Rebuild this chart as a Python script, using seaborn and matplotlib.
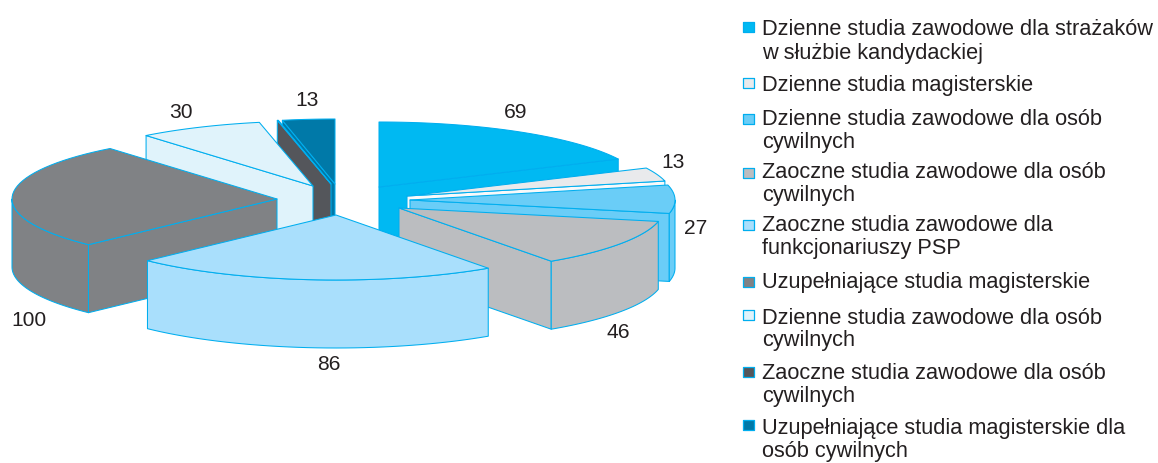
import numpy as np
import pandas as pd
import matplotlib.pyplot as plt
import seaborn as sns

# dane z wykresu (ciemnoszary wycinek nie ma etykiety, wartosc szacowana)
labels = [
    "Dzienne studia zawodowe dla strażaków\nw służbie kandydackiej",
    "Dzienne studia magisterskie",
    "Dzienne studia zawodowe dla osób\ncywilnych",
    "Zaoczne studia zawodowe dla osób\ncywilnych",
    "Zaoczne studia zawodowe dla\nfunkcjonariuszy PSP",
    "Uzupełniające studia magisterskie",
    "Dzienne studia zawodowe dla osób\ncywilnych",
    "Zaoczne studia zawodowe dla osób\ncywilnych",
    "Uzupełniające studia magisterskie dla\nosób cywilnych",
]
values = [69, 13, 27, 46, 86, 100, 30, 1, 13]
value_text = ["69", "13", "27", "46", "86", "100", "30", "", "13"]
colors = ["#00B9F2", "#E9EAEC", "#6ACDF7", "#BBBDC0", "#A9DFFC",
          "#808285", "#E0F3FB", "#54565B", "#0079A8"]
wall_colors = list(colors)
wall_colors[1] = "#F8F9FA"

# uklad: wysuniecie wycinkow wzgledem srodka, elipsa, wysokosc
CX, CY = 360, 195
RX, RY = 265, 65
DEPTH = 68
EDGE = "#00AEEF"
TEXT = "#231F20"
explode = [(19, -8), (47, 1), (50, 5), (39, 13), (-24, 20),
           (-83, 4), (-47, -9), (-29, -11), (-25, -11)]
# drobna korekta granic wycinkow (stopnie), oryginal nie jest idealnie proporcjonalny
edge_nudge = [0, 0, 0, 0, 0, 0, 2.1, 1.4, 0.7, 0]
draw_order = [8, 7, 6, 5, 0, 1, 2, 3, 4]
label_pos = [(516, 113), (673, 162), (696, 228), (618, 332), (329, 364),
             (29, 320), (181, 112), None, (307, 100)]
legend_marker_y = [27, 83, 119, 173, 225, 282, 315, 372, 425]
legend_text_y = [[27, 51], [83], [117, 140], [170, 193], [223, 246],
                 [280], [316, 338], [371, 394], [426, 449]]


def rim(ax0, ay0, a0, a1):
    t = np.radians(np.linspace(a0, a1, 40))
    return ax0 + RX * np.sin(t), ay0 - RY * np.cos(t)


def draw_face(ax, xs, ys, color):
    ax.fill(xs, ys, facecolor=color, edgecolor=EDGE, linewidth=0.75, joinstyle="round")


def draw_slice(ax, i, a0, a1):
    ox = CX + explode[i][0]
    oy = CY + explode[i][1]
    # sciany boczne widoczne od strony patrzacego
    for a, visible in ((a0, -np.sin(np.radians(a0)) > 1e-6), (a1, np.sin(np.radians(a1)) > 1e-6)):
        if visible:
            px, py = rim(ox, oy, a, a)
            draw_face(ax, [ox, px[0], px[0], ox], [oy, py[0], py[0] + DEPTH, oy + DEPTH], wall_colors[i])
    # sciana zewnetrzna
    lo, hi = max(a0, 90), min(a1, 270)
    if hi > lo:
        fx, fy = rim(ox, oy, lo, hi)
        draw_face(ax, np.r_[fx, fx[::-1]], np.r_[fy, fy[::-1] + DEPTH], wall_colors[i])
    # wierzch
    tx, ty = rim(ox, oy, a0, a1)
    draw_face(ax, np.r_[ox, tx], np.r_[oy, ty], colors[i])


sns.set_theme(style="white")
plt.rcParams["font.family"] = ["Liberation Sans", "DejaVu Sans"]

fig, ax = plt.subplots(figsize=(11.58, 4.63), dpi=100)
ax.set_position([0, 0, 1, 1])

edges = np.r_[0, np.cumsum(values)] / sum(values) * 360 + np.array(edge_nudge)
for i in draw_order:
    draw_slice(ax, i, edges[i], edges[i + 1])

for txt, pos in zip(value_text, label_pos):
    if pos is not None:
        ax.text(pos[0], pos[1], txt, ha="center", va="center", fontsize=15.1, color=TEXT)

# legenda
df = pd.DataFrame({"x": [748.5] * len(labels), "y": legend_marker_y, "k": range(len(labels))})
sns.scatterplot(data=df, x="x", y="y", hue="k", palette=colors, marker="s", s=58,
                edgecolor=EDGE, linewidth=0.9, legend=False, ax=ax)
ax.set_xlim(0, 1158)
ax.set_ylim(463, 0)
ax.axis("off")
for lab, ys in zip(labels, legend_text_y):
    for line, y in zip(lab.split("\n"), ys):
        ax.text(762, y, line, ha="left", va="center_baseline", fontsize=15.7, color=TEXT)

fig.savefig("out.png", dpi=100)
